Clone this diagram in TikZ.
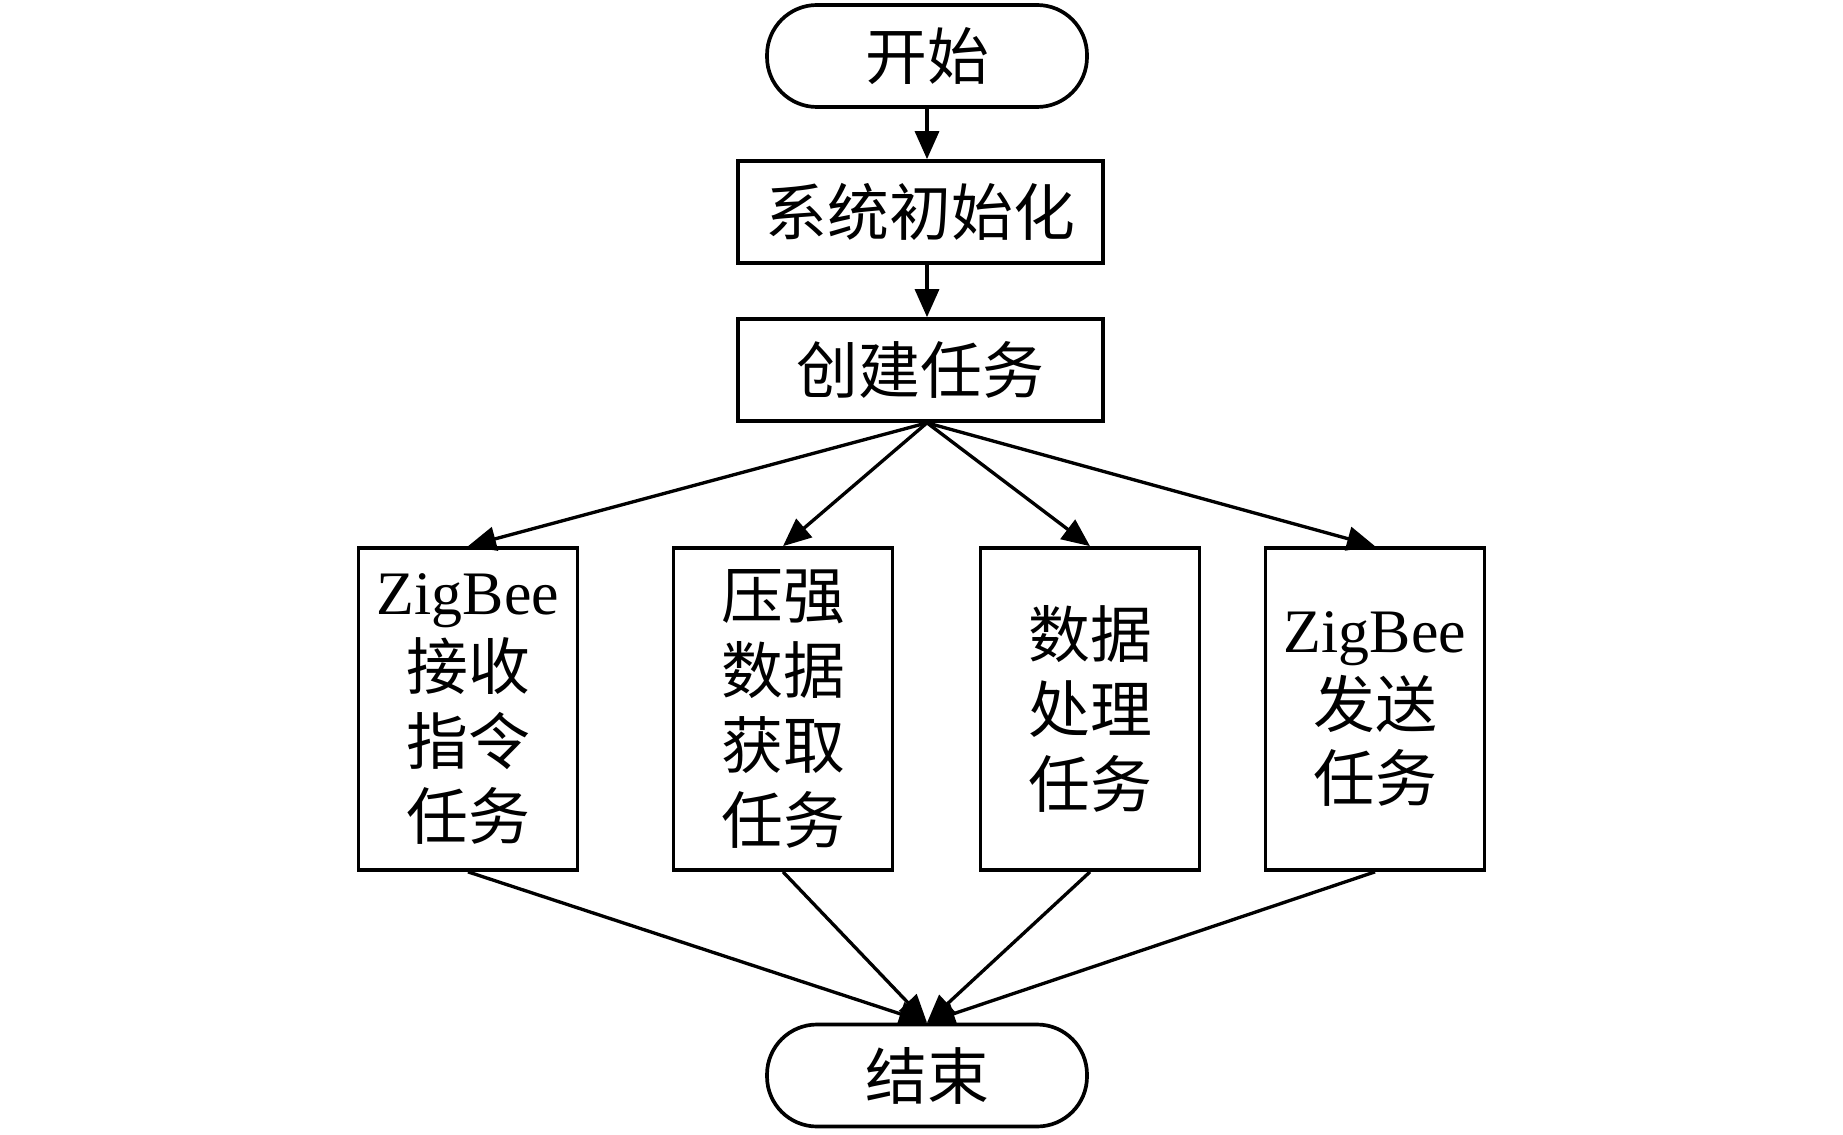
\documentclass[tikz,border=0pt]{standalone}
\usepackage{fontspec}
\setmainfont{Liberation Serif}
\newfontfamily\cjk{Noto Sans CJK SC}
\usetikzlibrary{arrows.meta}

\begin{document}
\begin{tikzpicture}[
		startstop/.style={draw,line width=1.05pt,rounded corners=0.5cm,minimum width=3.2cm,minimum height=1.02cm},
		block/.style={draw,line width=1.05pt,minimum width=3.65cm,minimum height=1.02cm},
		taskbox/.style={draw,line width=1.05pt,minimum width=2.19cm,minimum height=3.22cm,align=center},
		every node/.style={font=\cjk\fontsize{17.6}{21.3}\selectfont,inner sep=0pt}
	]
		% Rahmen festlegen
		\useasboundingbox (0,0) rectangle (18.43,11.34);
		
		% Ablauf oben
		\node[startstop] (start) at (9.27,10.78) {开始};
		\node[block] (init) at (9.205,9.22) {系统初始化};
		\node[block] (create) at (9.205,7.64) {创建任务};
		
		% Aufgaben
		\node[taskbox] (recv) at (4.68,4.25) {{\rmfamily ZigBee}\\接收\\指令\\任务};
		\node[taskbox] (press) at (7.83,4.25) {压强\\数据\\获取\\任务};
		\node[taskbox] (proc) at (10.90,4.25) {数据\\处理\\任务};
		\node[taskbox] (send) at (13.75,4.25) {{\rmfamily ZigBee}\\发送\\任务};
		
		% Ende
		\node[startstop] (end) at (9.27,0.585) {结束};
		
		% Pfeile zeichnen
		\begin{scope}[>={Triangle[length=0.28cm,width=0.24cm]},line width=0.95pt]
			\draw[->] (start.south) -- (start.south |- init.north);
			\draw[->] (init.south -| start) -- (create.north -| start);
			\foreach \t in {recv,press,proc,send}
				\draw[->] (create.south -| start) -- (\t.north);
			\foreach \t in {recv,press,proc,send}
				\draw[->] (\t.south) -- (end.north);
		\end{scope}
	\end{tikzpicture}
\end{document}
